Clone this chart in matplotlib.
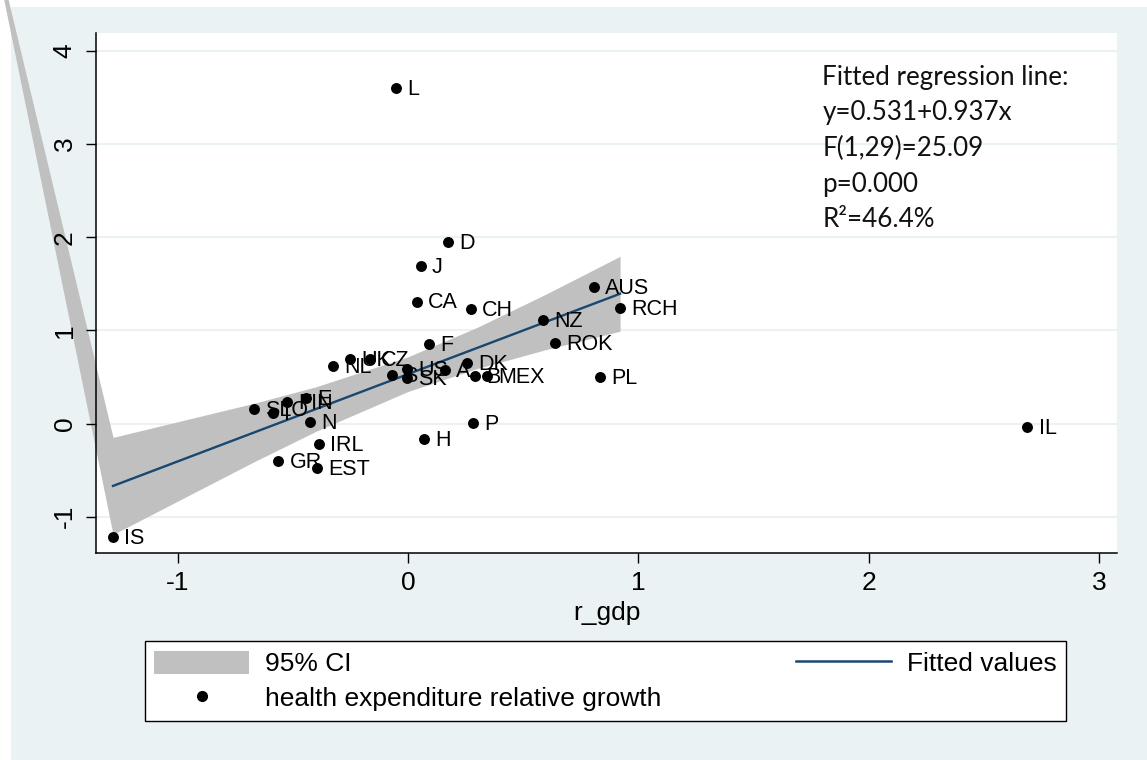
import matplotlib
matplotlib.use("Agg")
import matplotlib.pyplot as plt
from matplotlib.patches import Rectangle, Patch
from matplotlib.lines import Line2D

# Country codes and values
countries = ["L", "D", "J", "CA", "CH", "AUS", "RCH", "NZ", "ROK", "F", "PL", "IL",
             "P", "H", "NL", "UK", "CZ", "S", "US", "SK", "A", "DK", "B", "MEX",
             "SLO", "I", "FIN", "E", "N", "IRL", "GR", "EST", "IS"]
r_gdp = [-0.052, 0.174, 0.056, 0.039, 0.274, 0.808, 0.921, 0.586, 0.638, 0.092, 0.834, 2.690,
         0.282, 0.069, -0.324, -0.252, -0.165, -0.071, -0.003, -0.003, 0.161, 0.255, 0.291, 0.342,
         -0.669, -0.585, -0.527, -0.443, -0.426, -0.385, -0.563, -0.394, -1.281]
health_growth = [3.60, 1.95, 1.69, 1.31, 1.23, 1.466, 1.24, 1.11, 0.865, 0.851, 0.50, -0.033,
                 0.006, -0.165, 0.62, 0.69, 0.69, 0.52, 0.586, 0.486, 0.575, 0.647, 0.514, 0.514,
                 0.157, 0.11, 0.235, 0.272, 0.014, -0.219, -0.40, -0.48, -1.217]

# fitted line end points
fit_x = [-1.281, 0.921]
fit_y = [-0.669, 1.394]

# 95% CI band (first vertex is the stray point Stata drew off the plot)
ci_x = [-1.867, -1.281, -0.669, -0.40, 0.0, 0.30, 0.60, 0.921]
ci_hi = [5.90, -0.148, 0.218, 0.395, 0.717, 1.033, 1.391, 1.796]
ci_lo = [5.90, -1.190, -0.410, -0.083, 0.345, 0.591, 0.795, 0.992]

stats_lines = ["Fitted regression line:", "y=0.531+0.937x", "F(1,29)=25.09",
               "p=0.000", "R\u00b2=46.4%"]

W, H = 1147, 760
bg = "#EAF2F3"
navy = "#1A476F"
band = "#C0C0C0"

plt.rcParams["font.family"] = ["Liberation Sans", "DejaVu Sans"]
plt.rcParams["axes.unicode_minus"] = False

fig = plt.figure(figsize=(W / 100, H / 100), dpi=100, facecolor="white")
fig.patches.append(Rectangle((11 / W, 0), (W - 11) / W, (H - 7) / H,
                             transform=fig.transFigure, facecolor=bg,
                             edgecolor="none", zorder=-10))

ax = fig.add_axes([96 / W, (H - 553) / H, (1117 - 96) / W, (553 - 33) / H])
ax.set_facecolor("white")
ax.set_xlim(-1.355, 3.079)
ax.set_ylim(-1.389, 4.193)

# grid
for yv in [-1, 0, 1, 2, 3, 4]:
    ax.axhline(yv, color=bg, lw=1.5, zorder=0)

ax.fill_between(ci_x, ci_lo, ci_hi, color=band, lw=0, zorder=1, clip_on=False)
ax.plot(fit_x, fit_y, color=navy, lw=1.7, zorder=2)
ax.scatter(r_gdp, health_growth, s=62, color="black", zorder=3, linewidths=0)

for name, x, y in zip(countries, r_gdp, health_growth):
    ax.annotate(name, (x, y), xytext=(8, -1), textcoords="offset points",
                va="center", ha="left", fontsize=15.5, zorder=4)

# stats box text
for i, line in enumerate(stats_lines):
    ax.text(1.80, 3.72 - i * 0.383, line, fontsize=18.7, va="center", ha="left",
            family=["Lato", "DejaVu Sans"], color="#111111")

for side in ["top", "right"]:
    ax.spines[side].set_visible(False)
for side in ["left", "bottom"]:
    ax.spines[side].set_linewidth(1.1)
    ax.spines[side].set_color("black")

ax.set_xticks([-1, 0, 1, 2, 3])
ax.set_yticks([-1, 0, 1, 2, 3, 4])
ax.tick_params(axis="both", length=7, width=1.0, labelsize=19)
ax.tick_params(axis="x", pad=6)
ax.tick_params(axis="y", pad=7, labelrotation=90)
for lab in ax.get_yticklabels():
    lab.set_va("center")
ax.set_xlabel("r_gdp", fontsize=19, labelpad=4)

handles = [Patch(facecolor=band, edgecolor="none"),
           Line2D([], [], marker="o", color="black", ls="none", markersize=7),
           Line2D([], [], color=navy, lw=1.8)]
labels = ["95% CI", "health expenditure relative growth", "Fitted values"]
leg = fig.legend(handles, labels, ncol=2, loc="center",
                 bbox_to_anchor=(145 / W, (H - 724) / H, 921 / W, 86 / H),
                 mode="expand", fontsize=19, frameon=True, fancybox=False,
                 edgecolor="black", facecolor="white", framealpha=1,
                 handlelength=3.6, handleheight=1.0, labelspacing=0.35,
                 handletextpad=0.6, borderpad=0.35, borderaxespad=0)
leg.get_frame().set_linewidth(1.0)

fig.savefig("out.png", dpi=100, facecolor="white")
